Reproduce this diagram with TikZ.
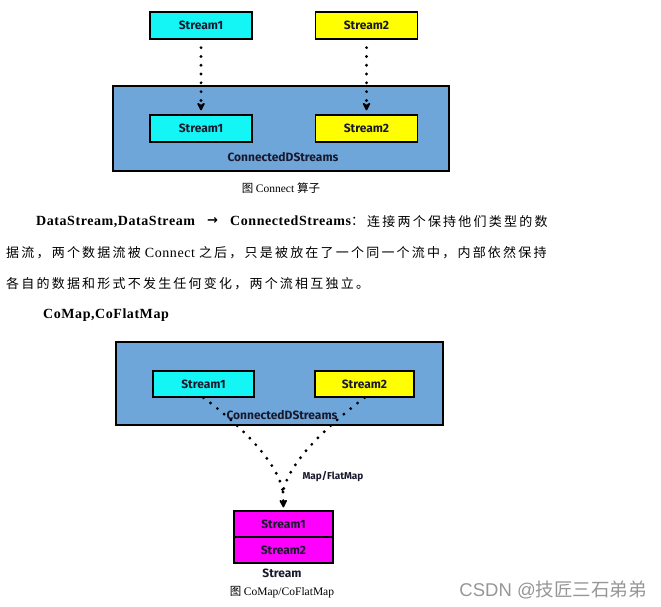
\documentclass[tikz,border=0pt]{standalone}
\usepackage{fontspec}
\setmainfont{Liberation Serif}
\newfontfamily\lat[LetterSpace=4]{Liberation Serif}
\newfontfamily\cjk[LetterSpace=17]{Noto Sans CJK SC}
\newfontfamily\cjkplain{Noto Sans CJK SC}
\newfontfamily\hand{Fira Sans}
\newfontfamily\wm{Liberation Sans}
\newfontfamily\djv{DejaVu Sans}
\usetikzlibrary{arrows.meta}
\definecolor{cyanc}{RGB}{20,245,245}
\definecolor{yellowc}{RGB}{255,255,0}
\definecolor{bluec}{RGB}{111,166,218}
\definecolor{magc}{RGB}{255,0,255}
\definecolor{inkc}{RGB}{25,25,45}
\definecolor{wmc}{RGB}{150,150,150}
\tikzset{
  sbox/.style={draw=black, line width=1.3pt, minimum width=102pt, minimum height=27pt, inner sep=0pt,
    font=\hand\fontsize{12}{14}\selectfont\bfseries, text=inkc},
  bigbox/.style={draw=black, line width=1.3pt, fill=bluec, inner sep=0pt},
  dotline/.style={line width=3.2pt, dash pattern=on 0pt off 8.8pt, line cap=round, black},
  tipd/.style={-{Stealth[length=10pt,width=10pt,inset=3.5pt,round]}},
  handlbl/.style={inner sep=0pt, font=\hand\fontsize{12}{14}\selectfont\bfseries, text=inkc},
  para/.style={anchor=base west, inner sep=0pt, font=\fontsize{14}{16}\selectfont},
  cjkpara/.style={anchor=base west, inner sep=0pt, font=\cjk\fontsize{13}{16}\selectfont},
  captext/.style={inner sep=0pt, font=\fontsize{11.5}{14}\selectfont}
}
\begin{document}
\begin{tikzpicture}[x=1pt,y=-1pt]
\useasboundingbox (0,0) rectangle (661,607);
% ---- top diagram ----
\node[sbox, fill=cyanc] (a1) at (201,25.5) {Stream1};
\node[sbox, fill=yellowc] (a2) at (366.5,25.5) {Stream2};
\node[bigbox, minimum width=336pt, minimum height=85pt] (big1) at (281,128.5) {};
\node[sbox, fill=cyanc] (b1) at (201,128.5) {Stream1};
\node[sbox, fill=yellowc] (b2) at (366.5,128.5) {Stream2};
\node[handlbl] (cds1) at (283,157) {ConnectedDStreams};
\draw[dotline, tipd, shorten <=8pt, shorten >=4pt] (a1.south) -- (b1.north);
\draw[dotline, tipd, shorten <=8pt, shorten >=4pt] (a2.south) -- (b2.north);
\node[captext] (cap1) at (281,188) {\cjkplain 图\ \rmfamily Connect \cjkplain 算子};
% ---- paragraph ----
\node[para] (p1a) at (36,225.5) {\lat\bfseries DataStream,DataStream};
\node[inner sep=0pt, font=\djv\bfseries\fontsize{13}{15}\selectfont] (p1b) at (212.5,220.5) {→};
\node[para] (p1c) at (230,225.5) {\lat\bfseries ConnectedStreams\cjkplain\mdseries\fontsize{13}{16}\selectfont ：};
\node[cjkpara] (p1d) at (367,226) {连接两个保持他们类型的数};
\node[cjkpara] (p2) at (6,257) {据流，两个数据流被{\lat\fontsize{14}{16}\selectfont{} Connect }之后，只是被放在了一个同一个流中，内部依然保持};
\node[cjkpara] (p3) at (6,288) {各自的数据和形式不发生任何变化，两个流相互独立。};
\node[para] (p4) at (43,318.5) {\lat\bfseries CoMap,CoFlatMap};
% ---- bottom diagram ----
\node[bigbox, minimum width=327pt, minimum height=83pt] (big2) at (279.5,383.5) {};
\node[sbox, fill=cyanc, minimum width=101pt, minimum height=26pt] (c1) at (203.5,384) {Stream1};
\node[sbox, fill=yellowc, minimum width=99pt, minimum height=26pt] (c2) at (364.5,384) {Stream2};
\node[handlbl] (cds2) at (282,415) {ConnectedDStreams};
\node[sbox, fill=magc, minimum width=99pt, minimum height=26pt] (m1) at (283.5,524) {Stream1};
\node[sbox, fill=magc, minimum width=99pt, minimum height=26pt] (m2) at (283.5,550) {Stream2};
\node[handlbl] (st) at (282,573) {Stream};
\node[handlbl, font=\hand\fontsize{10}{12}\selectfont\bfseries] (mf) at (333,477) {Map/FlatMap};
\coordinate (j) at (283,492);
\draw[dotline] (c1.south) .. controls (240,425) and (278,462) .. (j);
\draw[dotline] (c2.south) .. controls (325,428) and (289,462) .. (j);
\draw[dotline, tipd, shorten >=3pt] (j) -- (m1.north);
\node[captext] (cap2) at (282,592) {\cjkplain 图\ \rmfamily CoMap/CoFlatMap};
\node[anchor=east, inner sep=0pt, text=wmc, font=\fontsize{18.5}{20}\selectfont] (wm) at (647,590) {\wm CSDN @\cjkplain 技匠三石弟弟};
\end{tikzpicture}
\end{document}
